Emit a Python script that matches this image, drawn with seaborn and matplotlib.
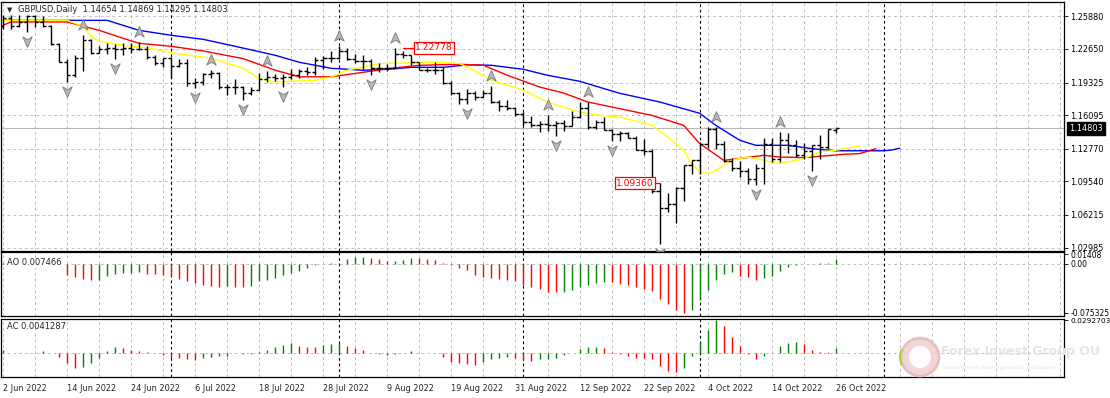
import numpy as np
import matplotlib
matplotlib.use("Agg")
import matplotlib.pyplot as plt
import seaborn as sns
from matplotlib.path import Path
from matplotlib import transforms
from matplotlib.patches import Ellipse, Arc

# ---- data (GBPUSD daily, 2 Jun - 26 Oct 2022) ----
opens = [1.2487, 1.2573, 1.2489, 1.2532, 1.2587, 1.2535, 1.2495, 1.2311, 1.2135, 1.2004,
         1.2179, 1.2350, 1.2227, 1.2262, 1.2277, 1.2264, 1.2271, 1.2267, 1.2269, 1.2182,
         1.2124, 1.2177, 1.2097, 1.2130, 1.1926, 1.1940, 1.2016, 1.2029, 1.1891, 1.1891,
         1.1889, 1.1829, 1.1862, 1.1963, 1.1990, 1.1975, 1.1990, 1.2004, 1.2042, 1.2035,
         1.2160, 1.2178, 1.2177, 1.2243, 1.2163, 1.2150, 1.2150, 1.2074, 1.2081, 1.2077,
         1.2210, 1.2205, 1.2139, 1.2060, 1.2052, 1.2053, 1.1925, 1.1833, 1.1767, 1.1827,
         1.1794, 1.1830, 1.1735, 1.1697, 1.1680, 1.1622, 1.1540, 1.1510, 1.1524, 1.1515,
         1.1536, 1.1505, 1.1588, 1.1685, 1.1497, 1.1546, 1.1465, 1.1421, 1.1437, 1.1384,
         1.1265, 1.1255, 1.0857, 1.0689, 1.0733, 1.0890, 1.1120, 1.1166, 1.1326, 1.1474,
         1.1321, 1.1154, 1.1087, 1.1058, 1.0973, 1.1090, 1.1325, 1.1173, 1.1359, 1.1319,
         1.1220, 1.1252, 1.1312, 1.1296, 1.14654]
highs = [1.2598, 1.2597, 1.2598, 1.2599, 1.2600, 1.2591, 1.2500, 1.2322, 1.2166, 1.2206,
         1.2406, 1.2360, 1.2296, 1.2324, 1.2315, 1.2322, 1.2323, 1.2332, 1.2293, 1.2203,
         1.2180, 1.2190, 1.2165, 1.2163, 1.1975, 1.2031, 1.2053, 1.2034, 1.1918, 1.1966,
         1.1899, 1.1891, 1.2029, 1.2043, 1.2016, 1.2020, 1.2065, 1.2064, 1.2087, 1.2184,
         1.2192, 1.2245, 1.2293, 1.2277, 1.2214, 1.2207, 1.2165, 1.2130, 1.2117, 1.22778,
         1.2248, 1.2209, 1.2139, 1.2072, 1.2136, 1.2090, 1.1943, 1.1843, 1.1872, 1.1847,
         1.1861, 1.1900, 1.1757, 1.1761, 1.1687, 1.1641, 1.1600, 1.1549, 1.1610, 1.1551,
         1.1563, 1.1648, 1.1738, 1.1740, 1.1562, 1.1589, 1.1472, 1.1457, 1.1443, 1.1406,
         1.1370, 1.1273, 1.0936, 1.0839, 1.0900, 1.1120, 1.1170, 1.1341, 1.1495, 1.1496,
         1.1356, 1.1185, 1.1151, 1.1082, 1.1122, 1.1381, 1.1380, 1.1439, 1.1436, 1.1363,
         1.1337, 1.1316, 1.1410, 1.1475, 1.14869]
lows = [1.2460, 1.2466, 1.2478, 1.2428, 1.2484, 1.2481, 1.2306, 1.2133, 1.1934, 1.1986,
        1.2042, 1.2213, 1.2220, 1.2215, 1.2161, 1.2209, 1.2225, 1.2254, 1.2161, 1.2106,
        1.2090, 1.1976, 1.2084, 1.1900, 1.1876, 1.1910, 1.1977, 1.1865, 1.1807, 1.1819,
        1.1760, 1.1808, 1.1855, 1.1936, 1.1952, 1.1889, 1.1967, 1.1973, 1.2004, 1.2010,
        1.2063, 1.2134, 1.2164, 1.2155, 1.2125, 1.2064, 1.2003, 1.2034, 1.2043, 1.2073,
        1.2178, 1.2106, 1.2055, 1.2037, 1.2021, 1.1920, 1.1806, 1.1720, 1.1717, 1.1760,
        1.1788, 1.1733, 1.1648, 1.1661, 1.1599, 1.1500, 1.1493, 1.1444, 1.1457, 1.1406,
        1.1456, 1.1500, 1.1584, 1.1476, 1.1470, 1.1458, 1.1351, 1.1356, 1.1380, 1.1260,
        1.1212, 1.0839, 1.0339, 1.0650, 1.0539, 1.0764, 1.1024, 1.1024, 1.1281, 1.1279,
        1.1143, 1.1053, 1.0998, 1.0925, 1.0923, 1.0924, 1.1150, 1.1149, 1.1231, 1.1200,
        1.1179, 1.1058, 1.1174, 1.1278, 1.14295]
closes = [1.2573, 1.2489, 1.2532, 1.2587, 1.2535, 1.2495, 1.2311, 1.2135, 1.2004, 1.2179,
          1.2350, 1.2227, 1.2262, 1.2277, 1.2264, 1.2271, 1.2267, 1.2269, 1.2182, 1.2124,
          1.2177, 1.2097, 1.2130, 1.1926, 1.1940, 1.2016, 1.2029, 1.1891, 1.1891, 1.1889,
          1.1829, 1.1862, 1.1963, 1.1990, 1.1975, 1.1990, 1.2004, 1.2042, 1.2035, 1.2160,
          1.2178, 1.2177, 1.2243, 1.2163, 1.2150, 1.2150, 1.2074, 1.2081, 1.2077, 1.2210,
          1.2205, 1.2139, 1.2060, 1.2052, 1.2053, 1.1925, 1.1833, 1.1767, 1.1827, 1.1794,
          1.1830, 1.1735, 1.1697, 1.1680, 1.1622, 1.1540, 1.1510, 1.1524, 1.1515, 1.1536,
          1.1505, 1.1588, 1.1685, 1.1497, 1.1546, 1.1465, 1.1421, 1.1437, 1.1384, 1.1265,
          1.1255, 1.0857, 1.0689, 1.0733, 1.0890, 1.1120, 1.1166, 1.1326, 1.1474, 1.1321,
          1.1154, 1.1087, 1.1058, 1.0973, 1.1090, 1.1325, 1.1173, 1.1359, 1.1319, 1.1220,
          1.1252, 1.1312, 1.1296, 1.1474, 1.14803]

# Alligator lines (bar index, price)
jaw_bars = [0, 13, 17, 21, 25, 29, 34, 37, 41, 45, 48, 51, 55, 58, 61, 65, 68, 72, 77,
            82, 87, 89, 92, 94, 98, 101, 104, 110, 111, 112]
jaw_vals = [1.2548, 1.2548, 1.2449, 1.2400, 1.2360, 1.2291, 1.2202, 1.2133, 1.2073, 1.2054,
            1.2063, 1.2083, 1.2083, 1.2108, 1.2103, 1.2063, 1.2004, 1.1945, 1.1826, 1.1740,
            1.1628, 1.1509, 1.1361, 1.1311, 1.1311, 1.1278, 1.1257, 1.1257, 1.1265, 1.1282]
teeth_bars = [0, 1, 8, 12, 15, 17, 21, 25, 30, 34, 37, 41, 45, 48, 52, 57, 60, 63, 67, 70,
              73, 77, 81, 85, 87, 90, 92, 95, 97, 100, 102, 105, 107, 109]
teeth_vals = [1.2499, 1.2532, 1.2532, 1.2449, 1.2370, 1.2321, 1.2291, 1.2245, 1.2169, 1.2054,
              1.1989, 1.1989, 1.2034, 1.2070, 1.2103, 1.2113, 1.2103, 1.2004, 1.1888, 1.1829,
              1.1740, 1.1674, 1.1608, 1.1509, 1.1328, 1.1163, 1.1180, 1.1212, 1.1195, 1.1189,
              1.1202, 1.1222, 1.1229, 1.1278]
lips_bars = [0, 8, 10, 11, 12, 15, 18, 21, 26, 30, 32, 34, 39, 41, 43, 47, 51, 54, 57, 58,
             61, 65, 68, 72, 75, 77, 81, 83, 85, 86, 87, 88, 89, 91, 93, 96, 97, 100, 102,
             104, 107]
lips_vals = [1.2548, 1.2548, 1.2489, 1.2390, 1.2341, 1.2301, 1.2276, 1.2227, 1.2172, 1.2073,
             1.1971, 1.1938, 1.1955, 1.1987, 1.2054, 1.2120, 1.2128, 1.2133, 1.2120, 1.2086,
             1.1955, 1.1856, 1.1740, 1.1638, 1.1603, 1.1591, 1.1509, 1.1393, 1.1262, 1.1130,
             1.1047, 1.1031, 1.1064, 1.1163, 1.1195, 1.1146, 1.1130, 1.1180, 1.1245, 1.1262,
             1.1304]

fractal_up = [10, 17, 26, 33, 42, 49, 61, 68, 73, 89, 97]
fractal_dn = [3, 8, 14, 24, 30, 35, 46, 58, 69, 76, 82, 94, 101]

ao = [0.0005, 0.0015, 0.0012, 0.0010, 0.0008, 0.0005, -0.0010, -0.0040,
      -0.0178, -0.0204, -0.0239, -0.0255, -0.0244, -0.0193, -0.0163, -0.0143,
      -0.0137, -0.0132, -0.0153, -0.0163, -0.0178, -0.0193, -0.0239, -0.0265,
      -0.0295, -0.0331, -0.0336, -0.0356, -0.0346, -0.0351, -0.0356, -0.0336,
      -0.0265, -0.0244, -0.0214, -0.0178, -0.0137, -0.0107, -0.0066, -0.0025,
      -0.0005, 0.0005, 0.0015, 0.0076, 0.0102, 0.0107, 0.0087, 0.0066,
      0.0036, 0.0046, 0.0061, 0.0087, 0.0081, 0.0076, 0.0051, 0.0010,
      -0.0015, -0.0061, -0.0102, -0.0168, -0.0204, -0.0224, -0.0234, -0.0255,
      -0.0270, -0.0326, -0.0356, -0.0392, -0.0428, -0.0438, -0.0433, -0.0397,
      -0.0356, -0.0331, -0.0295, -0.0280, -0.0285, -0.0316, -0.0331, -0.0356,
      -0.0382, -0.0417, -0.0534, -0.0621, -0.0713, -0.075325, -0.0713, -0.0550,
      -0.0407, -0.0244, -0.0163, -0.0132, -0.0193, -0.0204, -0.0244, -0.0214,
      -0.0188, -0.0112, -0.0051, -0.0015, -0.0003, -0.0005, 0.0002, 0.0015, 0.007466]
ac = [0.0023, 0.0003, 0.0001, -0.0002, 0.0002, 0.0014, 0.0003, -0.0034,
      -0.0091, -0.0133, -0.0128, -0.0085, -0.0040, 0.0017, 0.0057, 0.0043,
      0.0023, 0.0014, 0.0006, 0.0000, -0.0020, -0.0043, -0.0048, -0.0054,
      -0.0062, -0.0048, -0.0031, -0.0026, -0.0023, -0.0003, -0.0006, -0.0009,
      0.0006, 0.0031, 0.0057, 0.0071, 0.0085, 0.0065, 0.0057, 0.0054,
      0.0074, 0.0077, 0.0085, 0.0065, 0.0045, 0.0023, 0.0003, -0.0009,
      -0.0020, -0.0011, 0.0000, 0.0014, 0.0003, 0.0000, -0.0003, -0.0034,
      -0.0077, -0.0091, -0.0099, -0.0105, -0.0082, -0.0054, -0.0040, -0.0034,
      -0.0043, -0.0062, -0.0071, -0.0057, -0.0051, -0.0048, -0.0020, -0.0001,
      0.0037, 0.0051, 0.0053, 0.0045, 0.0009, -0.0009, -0.0028, -0.0043,
      -0.0048, -0.0057, -0.0119, -0.0156, -0.0168, -0.0133, -0.0028, 0.0099,
      0.0207, 0.0292703, 0.0236, 0.0145, 0.0060, -0.0009, -0.0054, -0.0026,
      0.0000, 0.0060, 0.0085, 0.0102, 0.0080, 0.0028, 0.0009, 0.0008, 0.0041287]

price_ticks = [1.25880, 1.22650, 1.19325, 1.16095, 1.12770, 1.09540, 1.06215, 1.02985]
date_labels = ["2 Jun 2022", "14 Jun 2022", "24 Jun 2022", "6 Jul 2022", "18 Jul 2022",
               "28 Jul 2022", "9 Aug 2022", "19 Aug 2022", "31 Aug 2022", "12 Sep 2022",
               "22 Sep 2022", "4 Oct 2022", "14 Oct 2022", "26 Oct 2022"]
separators = [21, 42, 65, 87, 110]
last_price = 1.14803

# ---- figure ----
sns.set_theme(style="white")
plt.rcParams["font.family"] = ["DejaVu Sans"]
FS = 5.9
W, H = 1110, 398
fig = plt.figure(figsize=(W / 100, H / 100), dpi=100)


def box(x0, y0, x1, y1):
    return [x0 / W, 1 - y1 / H, (x1 - x0) / W, (y1 - y0) / H]


ax = fig.add_axes(box(1, 2, 1064, 251))
ao_ax = fig.add_axes(box(1, 252, 1064, 316), sharex=ax)
ac_ax = fig.add_axes(box(1, 318.5, 1064, 377), sharex=ax)

idx = np.arange(len(closes))
GRID = "#c0c0c0"
for a in (ax, ao_ax, ac_ax):
    a.set_facecolor("white")
    for s in a.spines.values():
        s.set_color("black")
        s.set_linewidth(0.9)
    a.yaxis.tick_right()
    a.tick_params(axis="y", direction="out", length=3, width=0.6, labelsize=FS, pad=1.5,
                  colors="black")
    a.tick_params(axis="x", length=0, labelbottom=False)
    for b in range(0, 133, 4):
        if b not in separators:
            a.axvline(b, color=GRID, lw=0.7, ls=(0, (3, 3)), zorder=0)
    for b in separators:
        a.axvline(b, color="black", lw=0.8, ls=(0, (2.5, 2.5)), zorder=1)

ax.set_xlim(-0.25, 132.5)

# main chart
ax.set_ylim(1.02649, 1.27295)
for p in price_ticks:
    ax.axhline(p, color=GRID, lw=0.7, ls=(0, (3, 3)), zorder=0)
ax.axhline(last_price, color="#b8b8b8", lw=0.8, zorder=1)
ax.set_yticks(price_ticks)
ax.set_yticklabels([f"{p:.5f}" for p in price_ticks])

sns.lineplot(x=jaw_bars, y=jaw_vals, color="#0000ff", lw=1, ax=ax, zorder=3)
sns.lineplot(x=teeth_bars, y=teeth_vals, color="#ff0000", lw=1, ax=ax, zorder=3)
sns.lineplot(x=lips_bars, y=lips_vals, color="#ffff00", lw=1, ax=ax, zorder=3)

ax.vlines(idx, lows, highs, color="black", lw=1.0, zorder=4)
ax.hlines(opens, idx - 0.4, idx, color="black", lw=1.0, zorder=4)
ax.hlines(closes, idx, idx + 0.4, color="black", lw=1.0, zorder=4)

up_marker = Path([(0, 1), (0.8, -0.8), (0, -0.3), (-0.8, -0.8), (0, 1)],
                 [Path.MOVETO, Path.LINETO, Path.LINETO, Path.LINETO, Path.CLOSEPOLY])
dn_marker = Path([(0, -1), (0.8, 0.8), (0, 0.3), (-0.8, 0.8), (0, -1)],
                 [Path.MOVETO, Path.LINETO, Path.LINETO, Path.LINETO, Path.CLOSEPOLY])
up_tr = transforms.offset_copy(ax.transData, fig=fig, x=0, y=10, units="dots")
dn_tr = transforms.offset_copy(ax.transData, fig=fig, x=0, y=-9, units="dots")
ax.plot(fractal_up, [highs[i] for i in fractal_up], ls="none", marker=up_marker, ms=8.5,
        mfc="#b8b8b8", mec="#7a7a7a", mew=0.6, transform=up_tr, zorder=5)
ax.plot(fractal_dn, [lows[i] for i in fractal_dn], ls="none", marker=dn_marker, ms=8.5,
        mfc="#b8b8b8", mec="#7a7a7a", mew=0.6, transform=dn_tr, zorder=5)

# price labels
ax.plot([50.0, 51.4], [1.22778, 1.22778], color="red", lw=0.9, zorder=5)
ax.text(51.45, 1.22778, "1.22778", color="red", fontsize=6.6, ha="left", va="center",
        bbox=dict(boxstyle="square,pad=0.15", fc="white", ec="red", lw=0.9), zorder=6)
ax.plot([81.35, 82.0], [1.09360, 1.09360], color="red", lw=0.9, zorder=5)
ax.text(81.3, 1.09360, "1.09360", color="red", fontsize=6.6, ha="right", va="center",
        bbox=dict(boxstyle="square,pad=0.15", fc="white", ec="red", lw=0.9), zorder=6)

# header
ax.text(0.006, 0.968, "\u25BC", transform=ax.transAxes, fontsize=5, va="center", ha="left")
ax.text(0.016, 0.968, "GBPUSD,Daily  1.14654 1.14869 1.14295 1.14803",
        transform=ax.transAxes, fontsize=6.0, va="center", ha="left")

# bid label
ax.annotate(f"{last_price:.5f}", xy=(1.0, last_price), xycoords=("axes fraction", "data"),
            xytext=(3.5, 0), textcoords="offset points", fontsize=FS, color="white",
            va="center", ha="left", annotation_clip=False,
            bbox=dict(boxstyle="square,pad=0.25", fc="black", ec="black"))


def bar_colors(vals):
    return ["#008000" if i == 0 or vals[i] > vals[i - 1] else "#ff0000"
            for i in range(len(vals))]


# AO
ao_ax.set_ylim(-0.0800, 0.0177)
ao_ax.axhline(0, color=GRID, lw=0.7, ls=(0, (3, 3)), zorder=0)
ao_ax.vlines(idx, 0, ao, colors=bar_colors(ao), lw=1.0, zorder=3)
ao_ax.set_yticks([0.01408, 0.0, -0.075325])
ao_ax.set_yticklabels(["0.01408", "0.00", "-0.075325"])
ao_ax.tick_params(axis="y", labelsize=5.5)
ao_ax.text(0.0057, 0.83, "AO 0.007466", transform=ao_ax.transAxes, fontsize=6.0,
           va="center", ha="left", zorder=6,
           bbox=dict(boxstyle="square,pad=0.1", fc="white", ec="none"))

# AC
ac_ax.set_ylim(-0.0213, 0.0307)
ac_ax.axhline(0, color=GRID, lw=0.7, ls=(0, (3, 3)), zorder=0)
ac_ax.vlines(idx, 0, ac, colors=bar_colors(ac), lw=1.0, zorder=3)
ac_ax.set_yticks([0.0292703])
ac_ax.set_yticklabels(["0.0292703"])
ac_ax.tick_params(axis="y", labelsize=5.3)
ac_ax.text(0.0057, 0.855, "AC 0.0041287", transform=ac_ax.transAxes, fontsize=6.0,
           va="center", ha="left", zorder=6)

# date axis
ac_ax.set_xticks(list(range(0, 105, 8)))
ac_ax.set_xticklabels(date_labels, ha="left")
ac_ax.tick_params(axis="x", length=3, width=0.6, direction="out", labelbottom=True,
                  labelsize=5.9, pad=2)

# watermark
fig.patches.append(Ellipse((920 / W, 1 - 357 / H), 38 / W, 38 / H, transform=fig.transFigure,
                           fc="#f1d2d2", ec="#e6bcbc", lw=2, alpha=0.9, zorder=10))
fig.patches.append(Ellipse((920 / W, 1 - 357 / H), 22 / W, 22 / H, transform=fig.transFigure,
                           fc="white", ec="none", alpha=0.95, zorder=11))
fig.patches.append(Arc((906 / W, 1 - 357 / H), 12 / W, 20 / H, theta1=100, theta2=260,
                       transform=fig.transFigure, color="#b5d23c", lw=1.6, zorder=12))
fig.text(941 / W, 1 - 352 / H, "Forex Invest Group OU", fontsize=9, fontweight="bold",
         color="#e4e4e4", va="center", ha="left", zorder=12)
fig.text(943 / W, 1 - 368 / H, "Investment management company", fontsize=4.6,
         color="#e2e2e2", va="center", ha="left", zorder=12)

fig.savefig("out.png", dpi=100, facecolor="white")
